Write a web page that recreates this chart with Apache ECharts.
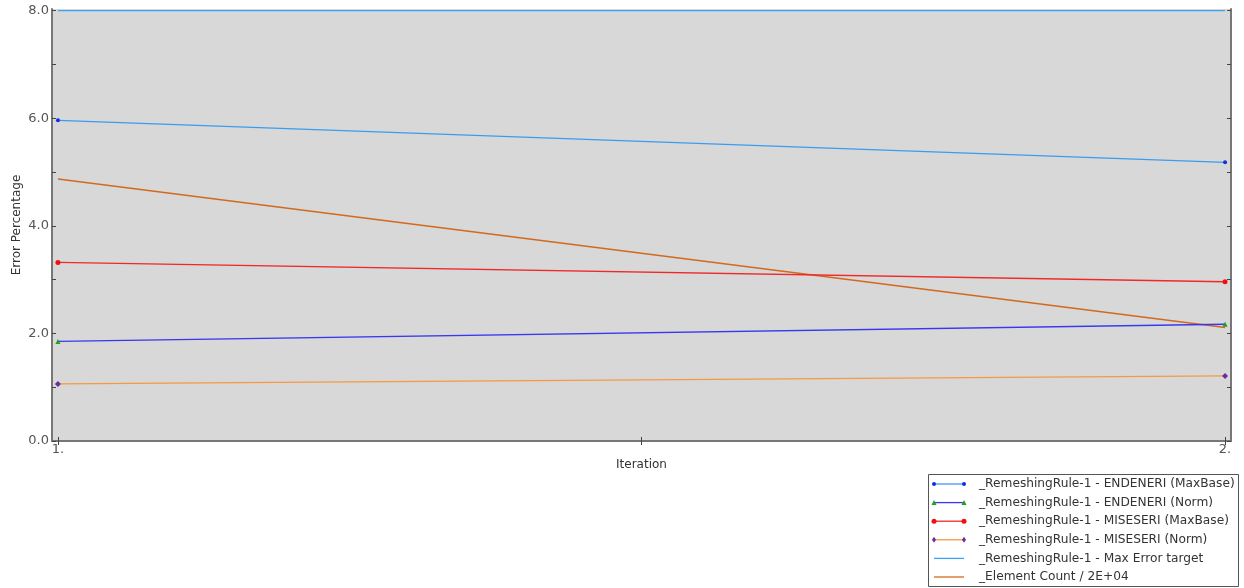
<!DOCTYPE html>
<html>
<head>
<meta charset="utf-8">
<script src="https://cdn.jsdelivr.net/npm/echarts@6/dist/echarts.min.js"></script>
<style>
  html, body { margin: 0; padding: 0; background: #ffffff; }
  #chart { width: 1244px; height: 588px; }
</style>
</head>
<body>
<div id="chart"></div>
<script>
// Remeshing error history per iteration
const iterations = [1, 2];
const seriesNames = [
  '_RemeshingRule-1 - ENDENERI (MaxBase)',
  '_RemeshingRule-1 - ENDENERI (Norm)',
  '_RemeshingRule-1 - MISESERI (MaxBase)',
  '_RemeshingRule-1 - MISESERI (Norm)',
  '_RemeshingRule-1 - Max Error target',
  '_Element Count / 2E+04'
];
const endeneriMaxBase = [5.96, 5.18];
const endeneriNorm = [1.85, 2.17];
const miseseriMaxBase = [3.32, 2.96];
const miseseriNorm = [1.06, 1.21];
const maxErrorTarget = [8.0, 8.0];
const elementCountScaled = [4.87, 2.11];
const yTickValues = [0, 1, 2, 3, 4, 5, 6, 7, 8];
const xTickValues = [1, 1.5, 2];
const xLabelValues = [1, 2];

const styles = [
  { line: '#3a9cf0', marker: '#1030e0', symbol: 'circle', size: 4 },
  { line: '#3838f0', marker: '#20a020', symbol: 'triangle', size: 5 },
  { line: '#f02828', marker: '#f01010', symbol: 'circle', size: 5 },
  { line: '#f59a40', marker: '#6a2aa0', symbol: 'diamond', size: 6 },
  { line: '#3aa2f2', marker: null, symbol: 'none', size: 0 },
  { line: '#d2691e', marker: null, symbol: 'none', size: 0 }
];
const values = [endeneriMaxBase, endeneriNorm, miseseriMaxBase, miseseriNorm, maxErrorTarget, elementCountScaled];

const series = values.map((vals, i) => ({
  name: seriesNames[i],
  type: 'line',
  data: vals.map((v, k) => [iterations[k], v]),
  symbol: styles[i].symbol,
  symbolSize: styles[i].size,
  showSymbol: styles[i].symbol !== 'none',
  lineStyle: { color: styles[i].line, width: 1.3 },
  itemStyle: { color: styles[i].marker || styles[i].line },
  z: 10 - i,
  animation: false
}));

// Legend box drawn as graphics, one row per series
const lg = { x: 928, y: 474, w: 310, h: 112, row: 18.6, first: 10 };
const legendGraphics = [{
  type: 'rect', shape: { x: lg.x + 0.5, y: lg.y + 0.5, width: lg.w, height: lg.h },
  style: { fill: '#ffffff', stroke: '#555555', lineWidth: 1 }, z: 100
}];
seriesNames.forEach((name, i) => {
  const cy = lg.y + lg.first + i * lg.row;
  legendGraphics.push({
    type: 'line', shape: { x1: lg.x + 6, y1: cy, x2: lg.x + 36, y2: cy },
    style: { stroke: styles[i].line, lineWidth: 1.3 }, z: 101
  });
  if (styles[i].marker) {
    [lg.x + 6, lg.x + 36].forEach(px => {
      const s = styles[i].size;
      if (styles[i].symbol === 'triangle') {
        legendGraphics.push({ type: 'polygon', shape: { points: [[px, cy - s / 2], [px + s / 2, cy + s / 2], [px - s / 2, cy + s / 2]] }, style: { fill: styles[i].marker }, z: 102 });
      } else if (styles[i].symbol === 'diamond') {
        legendGraphics.push({ type: 'polygon', shape: { points: [[px, cy - s / 2], [px + s / 3, cy], [px, cy + s / 2], [px - s / 3, cy]] }, style: { fill: styles[i].marker }, z: 102 });
      } else {
        legendGraphics.push({ type: 'circle', shape: { cx: px, cy: cy, r: s / 2 }, style: { fill: styles[i].marker }, z: 102 });
      }
    });
  }
  legendGraphics.push({
    type: 'text', x: lg.x + 51, y: cy,
    style: { text: name, fill: '#333333', font: '12.2px "DejaVu Sans"', verticalAlign: 'middle' }, z: 101
  });
});

const axisLineStyle = { color: '#777777', width: 2 };
const tickStyle = { color: '#444444', width: 1 };

const option = {
  backgroundColor: '#ffffff',
  animation: false,
  grid: {
    left: 52, right: 13, top: 9, bottom: 147,
    backgroundColor: '#d8d8d8', show: true, borderWidth: 0,
    containLabel: false, outerBoundsMode: 'none'
  },
  xAxis: [{
    type: 'value', min: 0.9949, max: 2.0051, position: 'bottom',
    name: 'Iteration', nameLocation: 'middle', nameGap: 18, nameMoveOverlap: false,
    nameTextStyle: { color: '#333333', fontSize: 12, fontFamily: 'DejaVu Sans' },
    axisLine: { show: true, lineStyle: axisLineStyle },
    axisTick: { show: true, inside: true, length: 4, lineStyle: tickStyle, customValues: xTickValues },
    axisLabel: { show: true, customValues: xLabelValues, formatter: v => v.toFixed(0) + '.', color: '#555555', fontSize: 13, fontFamily: 'DejaVu Sans', margin: 2 },
    splitLine: { show: false }
  }, {
    type: 'value', min: 0.9949, max: 2.0051, position: 'top',
    axisLine: { show: true, lineStyle: axisLineStyle },
    axisTick: { show: true, inside: true, length: 4, lineStyle: tickStyle, customValues: xTickValues },
    axisLabel: { show: false },
    splitLine: { show: false }
  }],
  yAxis: [{
    type: 'value', min: 0, max: 8.03, position: 'left',
    name: 'Error Percentage', nameLocation: 'middle', nameGap: 29, nameRotate: 90, nameMoveOverlap: false,
    nameTextStyle: { color: '#333333', fontSize: 12, fontFamily: 'DejaVu Sans' },
    axisLine: { show: true, lineStyle: axisLineStyle },
    axisTick: { show: true, inside: true, length: 4, lineStyle: tickStyle, customValues: yTickValues },
    axisLabel: { show: true, customValues: yTickValues.filter(v => v % 2 === 0), formatter: v => v.toFixed(1), color: '#555555', fontSize: 13, fontFamily: 'DejaVu Sans', margin: 3 },
    splitLine: { show: false }
  }, {
    type: 'value', min: 0, max: 8.03, position: 'right',
    axisLine: { show: true, lineStyle: axisLineStyle },
    axisTick: { show: true, inside: true, length: 4, lineStyle: tickStyle, customValues: yTickValues },
    axisLabel: { show: false },
    splitLine: { show: false }
  }],
  series: series,
  graphic: legendGraphics
};

const chart = echarts.init(document.getElementById('chart'), null, { renderer: 'canvas' });
chart.setOption(option);
</script>
</body>
</html>
